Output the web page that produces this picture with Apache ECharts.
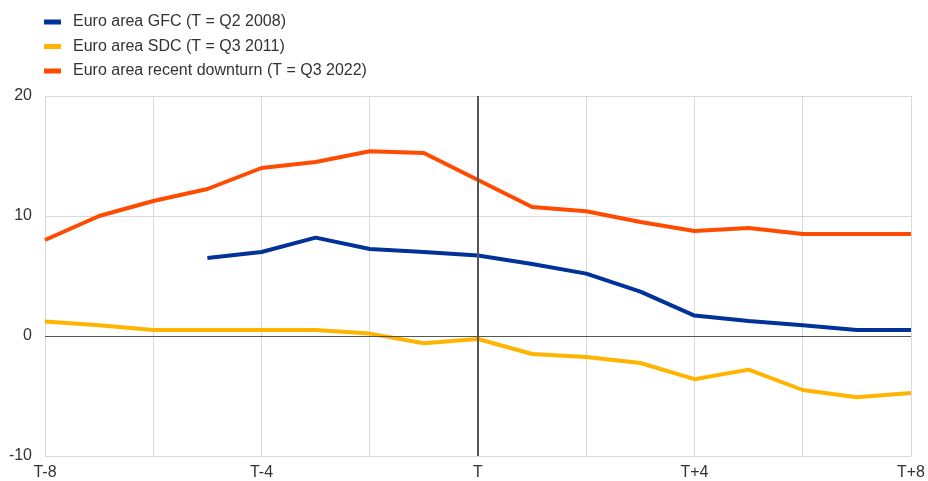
<!DOCTYPE html>
<html><head><meta charset="utf-8">
<script src="https://cdn.jsdelivr.net/npm/echarts@6/dist/echarts.min.js"></script>
<style>html,body{margin:0;padding:0;background:#fff}#c{width:928px;height:481px}</style>
</head><body><div id="c"></div>
<script>
const categories = ['T-8','T-7','T-6','T-5','T-4','T-3','T-2','T-1','T','T+1','T+2','T+3','T+4','T+5','T+6','T+7','T+8'];
const seriesNames = ['Euro area GFC (T = Q2 2008)','Euro area SDC (T = Q3 2011)','Euro area recent downturn (T = Q3 2022)'];
const gfc = [null,null,null,6.5,7.0,8.2,7.25,7.0,6.7,6.0,5.2,3.7,1.7,1.25,0.9,0.5,0.5];
const sdc = [1.2,0.9,0.5,0.5,0.5,0.5,0.2,-0.6,-0.25,-1.5,-1.75,-2.25,-3.6,-2.8,-4.5,-5.1,-4.75];
const recent = [8.0,10.0,11.25,12.25,14.0,14.5,15.4,15.25,13.0,10.75,10.4,9.5,8.75,9.0,8.5,8.5,8.5];
const yTicks = {min:-10,max:20,interval:10};

const font = '"Liberation Sans", Arial, sans-serif';
const colors = ['#003299','#FFB400','#FF4B00'];
const chart = echarts.init(document.getElementById('c'));
function mk(name, data, color, extra){
  return Object.assign({name, type:'line', data, symbol:'none', smooth:false,
    lineStyle:{width:4, color}, itemStyle:{color}, connectNulls:false, z:3}, extra||{});
}
chart.setOption({
  animation:false,
  textStyle:{fontFamily:font},
  legend:{orient:'vertical', left:39, top:9, itemGap:8.5, icon:'rect', itemWidth:17, itemHeight:5,
    textStyle:{fontSize:16, color:'#333', fontFamily:font, padding:[0,0,0,7]},
    data:seriesNames},
  grid:{left:45, right:16, top:96, bottom:25, containLabel:false},
  xAxis:{type:'category', data:categories, boundaryGap:false,
    axisLine:{show:false}, axisTick:{show:false},
    axisLabel:{interval:3, fontSize:16, color:'#333', margin:9, fontFamily:font},
    splitLine:{show:true, interval:1, lineStyle:{color:'#d9d9d9', width:1}}},
  yAxis:{type:'value', min:yTicks.min, max:yTicks.max, interval:yTicks.interval,
    axisLine:{show:false}, axisTick:{show:false},
    axisLabel:{fontSize:16, color:'#333', margin:13, fontFamily:font},
    splitLine:{show:true, lineStyle:{color:'#d9d9d9', width:1}}},
  series:[
    mk(seriesNames[0], gfc, colors[0], {z:4}),
    mk(seriesNames[1], sdc, colors[1]),
    mk(seriesNames[2], recent, colors[2], {
      markLine:{silent:true, symbol:'none', label:{show:false},
        data:[
          {xAxis:'T', lineStyle:{color:'#555', width:2, type:'solid'}},
          {yAxis:0, lineStyle:{color:'#555', width:1, type:'solid'}}
        ]}
    })
  ]
});
</script></body></html>
